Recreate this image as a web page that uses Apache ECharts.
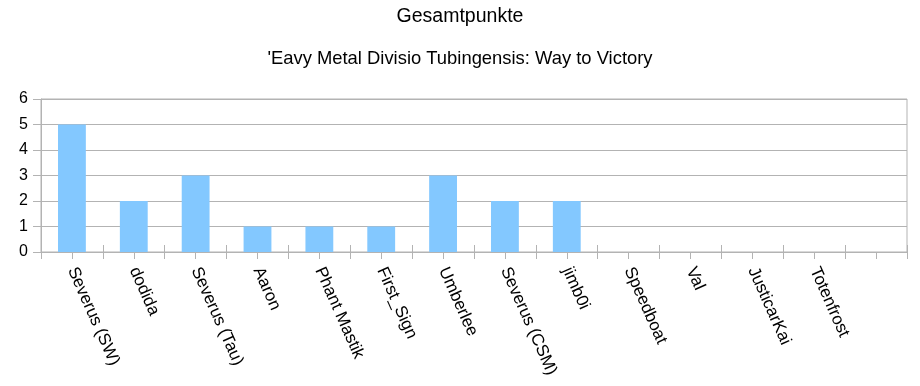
<!DOCTYPE html>
<html>
<head>
<meta charset="utf-8">
<script src="https://cdn.jsdelivr.net/npm/echarts@6/dist/echarts.min.js"></script>
<style>
html,body{margin:0;padding:0;background:#fff;}
#chart{width:920px;height:386px;}
</style>
</head>
<body>
<div id="chart"></div>
<script>
var titleText = "Gesamtpunkte";
var subtitleText = "'Eavy Metal Divisio Tubingensis: Way to Victory";
var categories = ["Severus (SW)", "dodida", "Severus (Tau)", "Aaron", "Phant Mastik", "First_Sign", "Umberlee", "Severus (CSM)", "jimb0i", "Speedboat", "Val", "JusticarKai", "Totenfrost", ""];
var points = [5, 2, 3, 1, 1, 1, 3, 2, 2, 0, 0, 0, 0, 0];
var yTicks = [0, 1, 2, 3, 4, 5, 6];

var font = "'Liberation Sans', Arial, sans-serif";
var grey = "#b3b3b3";
var chart = echarts.init(document.getElementById('chart'), null, {renderer: 'canvas'});
chart.setOption({
  backgroundColor: '#ffffff',
  animation: false,
  title: [
    {text: titleText, left: 'center', top: 2, textStyle: {fontFamily: font, fontSize: 19.5, fontWeight: 'normal', color: '#000'}},
    {text: subtitleText, left: 'center', top: 45, textStyle: {fontFamily: font, fontSize: 18.4, fontWeight: 'normal', color: '#000'}}
  ],
  grid: {left: 41, right: 13, top: 99, bottom: 134, show: true, borderColor: grey, borderWidth: 1, backgroundColor: 'transparent'},
  xAxis: [
    {
      type: 'category', data: categories, position: 'bottom',
      axisLine: {show: true, lineStyle: {color: grey, width: 1}},
      axisTick: {show: true, alignWithLabel: true, length: 7, lineStyle: {color: grey}},
      axisLabel: {rotate: -66, margin: 16, interval: 0, fontFamily: font, fontSize: 17, color: '#000'},
      splitLine: {show: false}
    },
    {
      type: 'category', data: categories, position: 'bottom',
      axisLine: {show: false},
      axisTick: {show: true, inside: true, interval: 0, length: 7, lineStyle: {color: grey}},
      axisLabel: {show: false},
      splitLine: {show: false}
    },
    {
      type: 'category', data: categories, position: 'bottom',
      axisLine: {show: false},
      axisTick: {show: true, inside: false, interval: 0, length: 7, lineStyle: {color: grey}},
      axisLabel: {show: false},
      splitLine: {show: false}
    }
  ],
  yAxis: {
    type: 'value', min: yTicks[0], max: yTicks[yTicks.length - 1], interval: 1,
    axisLine: {show: true, lineStyle: {color: grey}},
    axisTick: {show: true, length: 8, lineStyle: {color: grey}},
    axisLabel: {margin: 13, fontFamily: font, fontSize: 16, color: '#000'},
    splitLine: {show: true, lineStyle: {color: grey, width: 1}}
  },
  series: [{
    type: 'bar', xAxisIndex: 0, data: points, barWidth: '45%',
    itemStyle: {color: '#83c8ff'}
  }]
});
</script>
</body>
</html>
